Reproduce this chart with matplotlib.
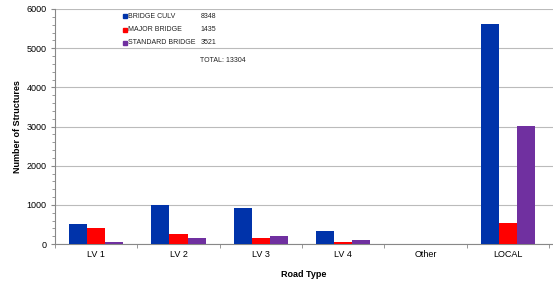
import matplotlib
matplotlib.use("Agg")
import matplotlib.pyplot as plt
import numpy as np
from matplotlib.patches import Rectangle
from matplotlib.ticker import MultipleLocator

plt.rcParams['font.family'] = ['Liberation Sans', 'DejaVu Sans']

categories = ["LV 1", "LV 2", "LV 3", "LV 4", "Other", "LOCAL"]
series_names = ["BRIDGE CULV", "MAJOR BRIDGE", "STANDARD BRIDGE"]
bridge_culv = [500, 990, 910, 333, 0, 5615]
major_bridge = [410, 250, 165, 63, 0, 547]
standard_bridge = [45, 155, 200, 103, 0, 3018]
colors = ["#0033AA", "#FF0000", "#7030A0"]

series = [bridge_culv, major_bridge, standard_bridge]

fig = plt.figure(figsize=(5.53, 2.85), dpi=100)
ax = fig.add_axes([55/553, 1-244/285, 1-55/553, (244-9)/285])

x = np.arange(len(categories))
w = 0.22
for i, (vals, c) in enumerate(zip(series, colors)):
    ax.bar(x + (i-1)*w, vals, width=w, color=c, zorder=3, linewidth=0)

ax.set_xlim(-0.5, 5.55)
ax.set_ylim(0, 6000)
ax.yaxis.set_major_locator(MultipleLocator(1000))
ax.yaxis.set_minor_locator(MultipleLocator(200))
ax.grid(axis='y', which='major', color='#bbbbbb', linewidth=0.8, zorder=0)

ax.set_xticks(x)
ax.set_xticklabels(categories, fontsize=6.5)
ax.set_xticks(np.arange(-0.5, 6, 1), minor=True)
ax.tick_params(axis='x', which='major', length=0, pad=4)
ax.tick_params(axis='x', which='minor', length=3, color='#888888', direction='out')
ax.tick_params(axis='y', which='major', labelsize=6.5, length=3, color='#888888', pad=3)
ax.tick_params(axis='y', which='minor', length=2, color='#888888')

for s in ['top', 'right']:
    ax.spines[s].set_visible(False)
for s in ['left', 'bottom']:
    ax.spines[s].set_color('#888888')
    ax.spines[s].set_linewidth(0.8)

ax.set_ylabel("Number of Structures", fontsize=6.5, fontweight='bold', labelpad=3)
ax.set_xlabel("Road Type", fontsize=6.5, fontweight='bold', labelpad=8)

# Legend / summary text
ys = [16, 29.5, 42.5]
for name, vals, c, yy in zip(series_names, series, colors, ys):
    fy = 1 - yy/285
    fig.patches.append(Rectangle((123/553, fy - 2.2/285), 4/553, 4/285,
                                 transform=fig.transFigure, color=c, figure=fig))
    fig.text(128.5/553, fy, name, fontsize=5, va='center', ha='left', color='#222222')
    fig.text(200.5/553, fy, str(int(sum(vals))), fontsize=5, va='center', ha='left', color='#222222')
total = int(sum(sum(v) for v in series))
fig.text(200.5/553, 1 - 60/285, f"TOTAL: {total}", fontsize=5, va='center', ha='left', color='#222222')

fig.savefig("out.png", dpi=100)
